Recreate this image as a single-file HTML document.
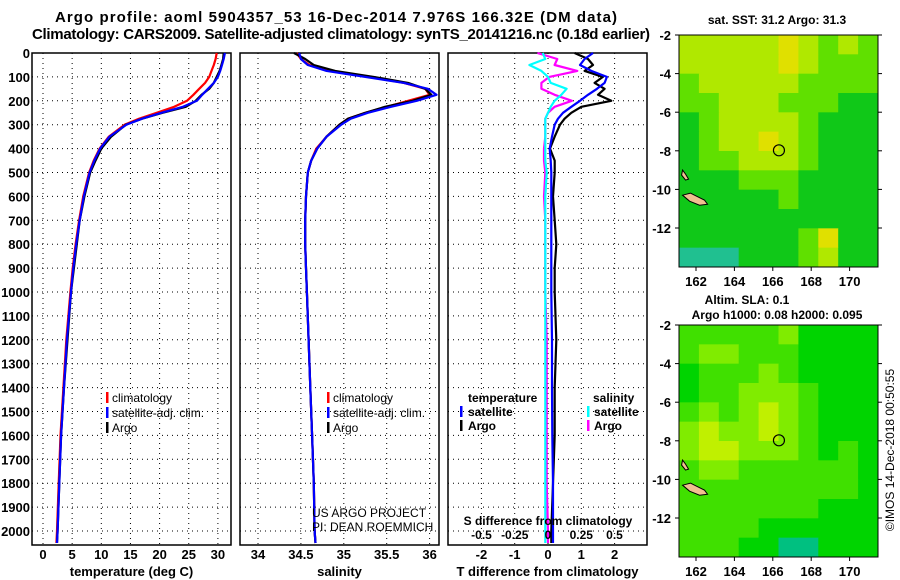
<!DOCTYPE html>
<html><head><meta charset="utf-8"><style>
body{margin:0;background:#fff;}
svg{display:block;font-family:"Liberation Sans",Arial,sans-serif;font-weight:bold;}
</style></head><body>
<svg id="c" width="900" height="580" viewBox="0 0 900 580">
<text x="336" y="22" text-anchor="middle" font-size="15" textLength="562">Argo profile: aoml 5904357_53 16-Dec-2014 7.976S 166.32E (DM data)</text>
<text x="341" y="39" text-anchor="middle" font-size="15" textLength="618">Climatology: CARS2009. Satellite-adjusted climatology: synTS_20141216.nc (0.18d earlier)</text>
<g id="panels"></g>
<g id="maps"></g>
<text transform="translate(894,450) rotate(-90)" text-anchor="middle" font-size="12" font-weight="normal">©IMOS 14-Dec-2018 00:50:55</text>
</svg>
<script>
// ---- data ----
const depthTicks=[0,100,200,300,400,500,600,700,800,900,1000,1100,1200,1300,1400,1500,1600,1700,1800,1900,2000];
const tempTicks=[0,5,10,15,20,25,30];
const salTicks=[34,34.5,35,35.5,36];
const tdiffTicks=[-2,-1,0,1,2];
const sdiffTicks=[-0.5,-0.25,0,0.25,0.5];
const depths=[0,25,50,75,100,125,150,175,200,225,250,275,300,350,400,450,500,600,700,800,900,1000,1200,1400,1600,1800,2000,2050];
const tempClim=[29.8,29.6,29.3,28.9,28.5,27.8,26.8,25.8,24.7,22.5,19.5,16.5,14.0,11.3,9.7,8.7,7.9,6.9,6.2,5.6,5.1,4.7,4.0,3.5,3.0,2.7,2.4,2.3];
const tempSat=[31.2,31.0,30.7,30.4,30.0,29.3,28.3,27.3,26.4,24.0,20.3,17.0,14.3,11.4,9.8,8.8,8.0,7.0,6.3,5.7,5.2,4.8,4.1,3.6,3.1,2.8,2.5,2.4];
const tempArgo=[31.0,30.9,30.6,30.3,29.8,29.3,28.5,27.2,26.2,24.5,20.5,17.0,14.2,11.7,10.0,9.0,8.1,7.1,6.3,5.8,5.3,4.8,4.2,3.6,3.1,2.8,2.5,2.4];
const salClim=[34.45,34.5,34.6,34.85,35.3,35.7,35.95,36.0,35.75,35.5,35.25,35.05,34.95,34.8,34.68,34.62,34.58,34.56,34.55,34.55,34.56,34.57,34.59,34.61,34.63,34.65,34.66,34.67];
const salSat=[34.48,34.5,34.58,34.8,35.25,35.7,35.98,36.08,35.85,35.55,35.28,35.08,34.97,34.8,34.69,34.62,34.58,34.56,34.55,34.55,34.56,34.57,34.59,34.61,34.63,34.65,34.66,34.67];
const salArgo=[34.42,34.55,34.65,34.9,35.35,35.75,35.95,36.02,35.8,35.48,35.25,35.05,34.95,34.8,34.69,34.62,34.58,34.56,34.55,34.55,34.56,34.57,34.59,34.61,34.63,34.65,34.66,34.67];
const tdiffSat=[1.35,1.1,0.96,1.3,1.77,1.7,1.47,1.2,0.96,0.7,0.45,0.3,0.2,0.12,0.05,0.08,0.1,0.1,0.1,0.1,0.1,0.1,0.12,0.12,0.13,0.15,0.15,0.15];
const tdiffArgo=[0.8,1.2,1.35,1.1,1.65,1.4,1.7,1.5,1.9,1.0,0.7,0.5,0.36,0.2,0.06,0.2,0.2,0.15,0.2,0.25,0.2,0.2,0.25,0.2,0.2,0.15,0.1,0.1];
const sdiffSat=[-0.04,-0.02,-0.14,-0.05,0.0,0.02,0.14,0.1,0.05,0.02,0.0,-0.02,-0.02,-0.02,-0.02,-0.02,-0.01,-0.02,-0.02,-0.02,-0.02,-0.02,-0.02,-0.02,-0.02,-0.02,-0.02,-0.02];
const sdiffArgo=[-0.08,0.07,0.05,0.22,0.01,-0.05,-0.05,0.05,0.18,0.05,0.0,-0.02,-0.02,-0.02,-0.03,-0.03,-0.02,-0.03,-0.02,-0.02,-0.02,-0.02,-0.01,-0.01,-0.01,-0.01,0.0,0.0];
const sstGrid=[
[3,3,3,3,3,4,3,2,3,2],[3,3,3,3,3,4,3,2,2,2],[2,3,3,3,3,3,2,2,2,2],[2,2,3,3,3,2,2,2,1,1],
[1,2,3,3,3,3,2,1,1,1],[1,2,3,3,4,3,2,1,1,1],[1,2,2,3,3,3,2,1,1,1],[1,1,1,2,2,2,1,1,1,1],
[1,1,1,1,1,2,1,1,1,1],[1,1,1,1,1,1,1,1,1,1],[1,1,1,1,1,1,2,4,1,1],[0,0,0,1,1,1,2,3,1,1]];
const slaGrid=[
[2,2,2,2,2,3,1,1,1,1],[2,3,3,2,2,2,1,1,1,1],[1,2,2,2,3,2,1,1,1,1],[1,2,2,3,3,3,2,1,1,1],
[2,3,2,3,4,3,2,1,1,1],[3,4,3,3,4,3,2,1,1,1],[3,4,4,3,3,3,2,1,2,1],[2,3,3,2,2,2,2,2,2,1],
[2,2,2,2,2,2,2,2,2,1],[2,2,2,2,2,2,2,1,1,1],[2,2,2,2,1,1,1,1,1,1],[2,2,2,1,1,0,0,1,1,1]];
const lonTicks=[162,164,166,168,170];
const latTicks=[-2,-4,-6,-8,-10,-12];
const argoLon=166.32, argoLat=-7.976;

// ---- helpers ----
const NS='http://www.w3.org/2000/svg';
function mk(tag,attrs,parent){const e=document.createElementNS(NS,tag);for(const k in attrs)e.setAttribute(k,attrs[k]);parent.appendChild(e);return e;}
const P=document.getElementById('panels');
const yD=d=>53+d*0.239;
const pTop=53, pBot=545;
function txt(g,x,y,s,name,anchor,size,weight){const t=mk('text',{x:x,y:y,'font-size':size||13,'text-anchor':anchor||'start'},g);if(weight)t.setAttribute('font-weight',weight);t.textContent=s;
  return t;}
function panel(x0,x1,xScale,xt,name,xlabel){
  const g=mk('g',{},P);
  
  
  depthTicks.forEach(d=>{const l=mk('line',{x1:x0,x2:x1,y1:yD(d),y2:yD(d),stroke:'#000','stroke-dasharray':'1 4'},g);
    });
  xt.forEach(v=>{const l=mk('line',{x1:xScale(v),x2:xScale(v),y1:pTop,y2:pBot,stroke:'#000','stroke-dasharray':'1 4'},g);
    
    txt(g,xScale(v),559,v,'x-tick-label','middle',13);});
  const r=mk('rect',{x:x0,y:pTop,width:x1-x0,height:pBot-pTop,fill:'none',stroke:'#000','stroke-width':1.5},g);
  
  txt(g,(x0+x1)/2,576,xlabel,'x-axis-title','middle',13);
  return g;
}
function line(g,xs,xScale,color,name,w){
  const pts=depths.map((d,i)=>xScale(xs[i]).toFixed(1)+','+yD(d).toFixed(1)).join(' ');
  const p=mk('polyline',{points:pts,fill:'none',stroke:color,'stroke-width':w||2.2,'stroke-linejoin':'round'},g);
  
}
function mark(g,x,y,color,name){const r=mk('rect',{x:x,y:y-10,width:2.5,height:11,fill:color},g);}

depthTicks.forEach(d=>{txt(P,30,yD(d)+5,d,'y-tick-label','end',13);});

// panel 1 temperature
const xT=v=>43+v*5.83;
let g1=panel(32,231,xT,tempTicks,'temperature-panel','temperature (deg C)');
line(g1,tempClim,xT,'#ff0000','temp-climatology-line');
line(g1,tempArgo,xT,'#000','temp-argo-line');
line(g1,tempSat,xT,'#0000ff','temp-satellite-line');
mark(g1,106,402,'#f00','legend-climatology-marker');txt(g1,112,402,'climatology','legend-climatology',null,12,'normal');
mark(g1,106,417,'#00f','legend-satellite-marker');txt(g1,112,417,'satellite-adj. clim.','legend-satellite',null,12,'normal');
mark(g1,106,432,'#000','legend-argo-marker');txt(g1,112,432,'Argo','legend-argo',null,12,'normal');

// panel 2 salinity
const xS=v=>258+(v-34)*85.8;
let g2=panel(240,439,xS,salTicks,'salinity-panel','salinity');
line(g2,salClim,xS,'#ff0000','sal-climatology-line');
line(g2,salArgo,xS,'#000','sal-argo-line');
line(g2,salSat,xS,'#0000ff','sal-satellite-line');
mark(g2,327,402,'#f00','legend-climatology-marker');txt(g2,333,402,'climatology','legend-climatology',null,12,'normal');
mark(g2,327,417,'#00f','legend-satellite-marker');txt(g2,333,417,'satellite-adj. clim.','legend-satellite',null,12,'normal');
mark(g2,327,432,'#000','legend-argo-marker');txt(g2,333,432,'Argo','legend-argo',null,12,'normal');
txt(g2,312,517,'US ARGO PROJECT','project-credit',null,12,'normal');
txt(g2,312,531,'PI: DEAN ROEMMICH','pi-credit',null,12,'normal');

// panel 3 differences
const xTd=v=>548+v*33.3;
const xSd=v=>548+v*133;
let g3=panel(448,647,xTd,tdiffTicks,'difference-panel','T difference from climatology');
line(g3,tdiffArgo,xTd,'#000','tdiff-argo-line');
line(g3,tdiffSat,xTd,'#0000ff','tdiff-satellite-line');
line(g3,sdiffArgo,xSd,'#ff00ff','sdiff-argo-line');
line(g3,sdiffSat,xSd,'#00ffff','sdiff-satellite-line');
txt(g3,468,402,'temperature','legend-temperature-heading',null,12);
mark(g3,460,416,'#00f','legend-tsat-marker');txt(g3,468,416,'satellite','legend-tsat',null,12);
mark(g3,460,430,'#000','legend-targo-marker');txt(g3,468,430,'Argo','legend-targo',null,12);
txt(g3,593,402,'salinity','legend-salinity-heading',null,12);
mark(g3,587,416,'#0ff','legend-ssat-marker');txt(g3,594,416,'satellite','legend-ssat',null,12);
mark(g3,587,430,'#f0f','legend-sargo-marker');txt(g3,594,430,'Argo','legend-sargo',null,12);
txt(g3,548,525,'S difference from climatology','sdiff-axis-title','middle',12);
sdiffTicks.forEach(v=>txt(g3,xSd(v),539,v,'sdiff-tick-label','middle',12));

// ---- maps ----
const M=document.getElementById('maps');
const sstCol=['#20c090','#10c818','#60e000','#b0e800','#e0e000','#f0a000'];
const slaCol=['#00c080','#00d400','#40e000','#80ec00','#c0f000'];
function map(y0,grid,cols,name){
  const x0=679,x1=878,y1=y0+232;
  const g=mk('g',{},M);
  
  const lonX=v=>696+(v-162)*19.2;
  const latYf=v=>y0+(-2-v)*19.3;
  const cw=(x1-x0)/grid[0].length, ch=(y1-y0)/grid.length;
  grid.forEach((row,r)=>row.forEach((v,c)=>{const e=mk('rect',{x:x0+c*cw,y:y0+r*ch,width:cw+0.5,height:ch+0.5,fill:cols[v]},g);
    }));
  const isl=mk('path',{d:`M${lonX(161.3)},${latYf(-10.3)} l8,-2 l6,3 l8,4 l3,4 l-8,1 l-10,-4 z M${lonX(161.3)},${latYf(-9)} l3,4 l3,5 l-3,1 l-4,-5 z`,fill:'#f0c090',stroke:'#000','stroke-width':1},g);
  
  const c=mk('circle',{cx:lonX(argoLon),cy:latYf(argoLat),r:5.5,fill:'none',stroke:'#000','stroke-width':1.2},g);
  
  const f=mk('rect',{x:x0,y:y0,width:x1-x0,height:y1-y0,fill:'none',stroke:'#000'},g);
  
  lonTicks.forEach(v=>{mk('line',{x1:lonX(v),x2:lonX(v),y1:y1,y2:y1+4,stroke:'#000'},g);txt(g,lonX(v),y1+19,v,'lon-tick-label','middle',13);});
  latTicks.forEach(v=>{mk('line',{x1:x0-4,x2:x0,y1:latYf(v),y2:latYf(v),stroke:'#000'},g);mk('line',{x1:x1,x2:x1+4,y1:latYf(v),y2:latYf(v),stroke:'#000'},g);txt(g,671,latYf(v)+5,v,'lat-tick-label','end',13);});
}
map(35,sstGrid,sstCol,'sst-map');
map(325,slaGrid,slaCol,'sla-map');
txt(M,777,24,'sat. SST: 31.2 Argo: 31.3','sst-map-title','middle',12);
txt(M,747,304,'Altim. SLA: 0.1','sla-map-title','middle',12);
txt(M,777,319,'Argo h1000: 0.08 h2000: 0.095','sla-map-subtitle','middle',12);
</script>
</body></html>
